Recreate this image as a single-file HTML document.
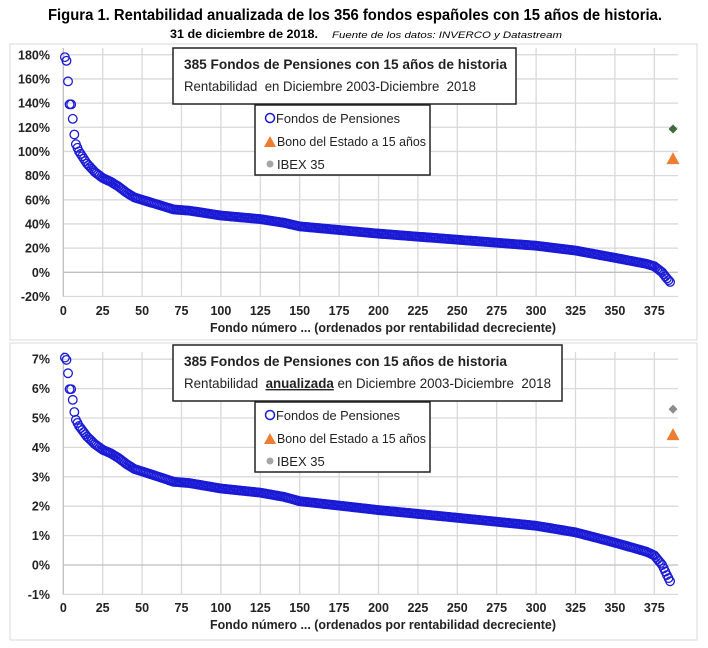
<!DOCTYPE html>
<html><head><meta charset="utf-8"><style>
body{margin:0;background:#fff;}
svg{display:block;font-family:"Liberation Sans",Arial,sans-serif;}
</style></head><body>
<svg id="s" width="708" height="648" viewBox="0 0 708 648" xmlns="http://www.w3.org/2000/svg">
<text x="48" y="20" font-size="15.5" font-weight="bold" textLength="614" lengthAdjust="spacingAndGlyphs">Figura 1. Rentabilidad anualizada de los 356 fondos españoles con 15 años de historia.</text>
<text x="170" y="38" font-size="11.5" font-weight="bold" textLength="148" lengthAdjust="spacingAndGlyphs">31 de diciembre de 2018.</text>
<text x="332" y="38" font-size="9.5" font-style="italic" textLength="230" lengthAdjust="spacingAndGlyphs">Fuente de los datos: INVERCO  y Datastream</text>
<rect x="10" y="44" width="687" height="296" fill="none" stroke="#d9d9d9"/>
<rect x="10" y="343" width="687" height="297" fill="none" stroke="#d9d9d9"/>
<g id="g1"></g><g id="g2"></g>
</svg>
<script>
var NS="http://www.w3.org/2000/svg",s=document.getElementById('s');
function el(p,t,a,txt){var e=document.createElementNS(NS,t);for(var k in a)e.setAttribute(k,a[k]);if(txt!=null)e.textContent=txt;p.appendChild(e);return e;}
var A=[[1,178],[2,175],[3,158],[4,139],[5,139],[6,127],[7,114],[8,106],[10,100],[15,90],[20,83],[25,78],[30,75],[35,71],[40,66],[45,62],[50,60],[60,56],[70,52],[80,51],[100,47],[125,44],[140,41],[150,38],[175,35],[200,32],[250,27],[300,22],[325,18],[350,12],[370,7],[375,5],[378,2],[380,0],[383,-5],[385,-8]];
function val(i){for(var k=0;k<A.length-1;k++){if(i<=A[k+1][0]){var a=A[k],b=A[k+1];return a[1]+(b[1]-a[1])*(i-a[0])/(b[0]-a[0]);}}return -8;}
var X0=63.3,XS=39.4/25;
var LA='spacingAndGlyphs';
function chart(g,cfg){
 g=document.getElementById(g);
 var ty=function(v){return cfg.y0-v*cfg.ys;};
 var top=cfg.top,bot=ty(cfg.min);
 for(var x=0;x<=390;x+=25){if(x==0)continue;el(g,'line',{x1:X0+x*XS,x2:X0+x*XS,y1:top,y2:bot,stroke:'#d9d9d9','stroke-width':1.3});}
 for(var v=cfg.min;v<=cfg.max+1e-9;v+=cfg.step){var y=ty(v);el(g,'line',{x1:X0,x2:678,y1:y,y2:y,stroke:v==0?'#bfbfbf':'#d9d9d9','stroke-width':1.3});
  el(g,'text',{x:50,y:y+4.5,'text-anchor':'end','font-size':12.5,'font-weight':'bold',fill:'#222'},cfg.fmt(v));}
 el(g,'line',{x1:X0,x2:X0,y1:top,y2:bot,stroke:'#bfbfbf','stroke-width':1.3});
 for(var x=0;x<=375;x+=25)el(g,'text',{x:X0+x*XS,y:cfg.lx,'text-anchor':'middle','font-size':12.5,'font-weight':'bold',fill:'#222'},x);
 el(g,'text',{x:210,y:cfg.lx+17,'font-size':12.5,'font-weight':'bold',fill:'#222',textLength:346,lengthAdjust:LA},'Fondo número ... (ordenados por rentabilidad decreciente)');
 for(var i=1;i<=385;i++){el(g,'circle',{cx:X0+i*XS,cy:ty(cfg.f(val(i))),r:4.3,fill:'none',stroke:'#1a1ad6','stroke-width':1.3});}
 var dx=673,dy=ty(cfg.ibex);el(g,'path',{d:'M'+dx+' '+(dy-4.5)+'l4.5 4.5l-4.5 4.5l-4.5-4.5z',fill:cfg.ic});
 var ty2=ty(cfg.bono);el(g,'path',{d:'M'+(dx-6.5)+' '+(ty2+6)+'h13l-6.5-12z',fill:'#ed7d31'});
 el(g,'rect',{x:173,y:cfg.by,width:cfg.bw,height:56,fill:'#fff',stroke:'#222','stroke-width':1.5});
 el(g,'text',{x:184,y:cfg.by+21,'font-size':14,'font-weight':'bold',fill:'#222',textLength:323,lengthAdjust:LA},'385 Fondos de Pensiones con 15 años de historia');
 var t=el(g,'text',{x:184,y:cfg.by+43,'font-size':14,fill:'#222',textLength:cfg.sl,lengthAdjust:LA});t.innerHTML=cfg.sub;
 var ly=cfg.by+57;el(g,'rect',{x:255,y:ly,width:175,height:70,fill:'#fff',stroke:'#222','stroke-width':1.5});
 el(g,'circle',{cx:270,cy:ly+13,r:4.5,fill:'none',stroke:'#1a1ad6','stroke-width':1.5});
 el(g,'text',{x:276,y:ly+18,'font-size':13,fill:'#222',textLength:124,lengthAdjust:LA},'Fondos de Pensiones');
 el(g,'path',{d:'M264 '+(ly+42)+'h12l-6-11z',fill:'#ed7d31'});
 el(g,'text',{x:277,y:ly+41,'font-size':13,fill:'#222',textLength:149,lengthAdjust:LA},'Bono del Estado a 15 años');
 el(g,'circle',{cx:270,cy:ly+59,r:3.5,fill:'#a6a6a6'});
 el(g,'text',{x:277,y:ly+64,'font-size':13,fill:'#222'},'IBEX 35');
}
chart('g1',{y0:272.3,ys:24.17/20,min:-20,max:180,step:20,top:48,lx:315,fmt:function(v){return v+'%';},f:function(c){return c;},ibex:118.6,bono:94.5,ic:'#3d6b3d',by:48,bw:343,sl:292,sub:'Rentabilidad&#160; en Diciembre 2003-Diciembre&#160; 2018'});
chart('g2',{y0:565,ys:29.4,min:-1,max:7,step:1,top:352,lx:612,fmt:function(v){return Math.round(v)+'%';},f:function(c){return (Math.pow(1+c/100,1/15)-1)*100;},ibex:5.3,bono:4.45,ic:'#8c8c8c',by:345,bw:389,sl:367,sub:'Rentabilidad&#160; <tspan font-weight="bold" text-decoration="underline">anualizada</tspan> en Diciembre 2003-Diciembre&#160; 2018'});
</script>
</body></html>
